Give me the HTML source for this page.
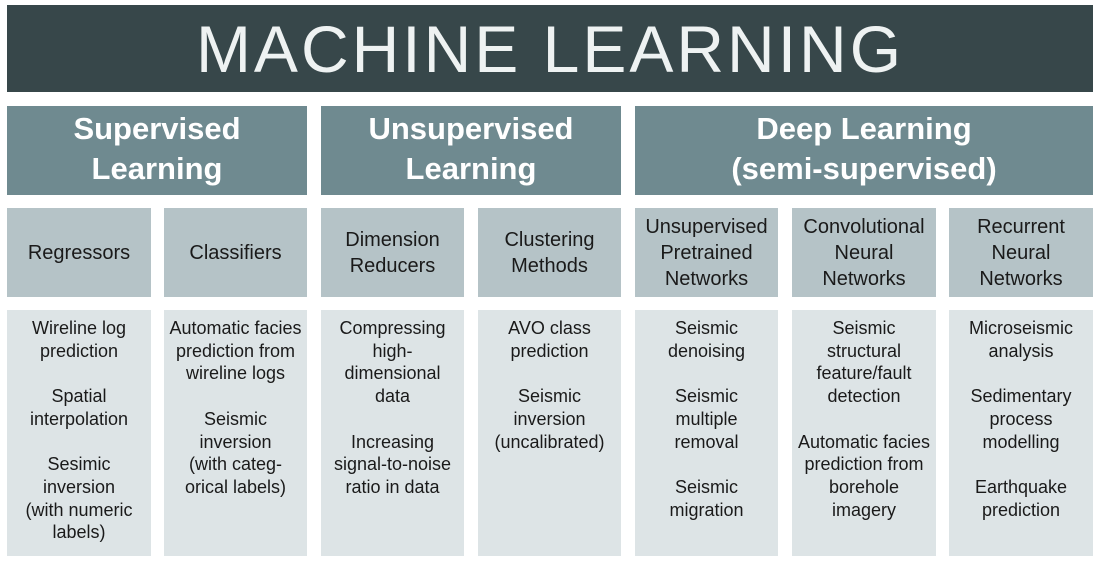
<!DOCTYPE html>
<html><head><meta charset="utf-8"><style>
body{margin:0;width:1100px;height:560px;background:#fff;position:relative;font-family:"Liberation Sans",sans-serif;overflow:hidden}
.b{position:absolute;display:flex;align-items:center;justify-content:center;text-align:center;box-sizing:border-box}
.t{left:7px;top:5px;width:1086px;height:87px;background:#37474a;color:#eef2f2;font-size:66px;letter-spacing:3px}
.c{top:106px;height:89px;background:#6f8a90;color:#fff;font-size:31px;font-weight:bold;line-height:40px;padding-bottom:4px}
.s{top:208px;height:89px;background:#b5c3c7;color:#1a1a1a;font-size:20px;line-height:26px}
.p{top:310px;height:246px;background:#dde4e6;color:#1a1a1a;font-size:18px;line-height:22.7px;align-items:flex-start;padding-top:7px}
.p p{margin:0 0 22.7px 0}
</style></head><body>
<div class="b t">MACHINE LEARNING</div>
<div class="b c" style="left:7px;width:300px">Supervised<br>Learning</div>
<div class="b c" style="left:321px;width:300px">Unsupervised<br>Learning</div>
<div class="b c" style="left:635px;width:458px">Deep Learning<br>(semi-supervised)</div>
<div class="b s" style="left:7px;width:144px">Regressors</div>
<div class="b s" style="left:164px;width:143px">Classifiers</div>
<div class="b s" style="left:321px;width:143px">Dimension<br>Reducers</div>
<div class="b s" style="left:478px;width:143px">Clustering<br>Methods</div>
<div class="b s" style="left:635px;width:143px">Unsupervised<br>Pretrained<br>Networks</div>
<div class="b s" style="left:792px;width:144px">Convolutional<br>Neural<br>Networks</div>
<div class="b s" style="left:949px;width:144px">Recurrent<br>Neural<br>Networks</div>
<div class="b p" style="left:7px;width:144px"><div><p>Wireline log<br>prediction</p><p>Spatial<br>interpolation</p><p>Sesimic<br>inversion<br>(with numeric<br>labels)</p></div></div>
<div class="b p" style="left:164px;width:143px"><div><p>Automatic facies<br>prediction from<br>wireline logs</p><p>Seismic<br>inversion<br>(with categ-<br>orical labels)</p></div></div>
<div class="b p" style="left:321px;width:143px"><div><p>Compressing<br>high-<br>dimensional<br>data</p><p>Increasing<br>signal-to-noise<br>ratio in data</p></div></div>
<div class="b p" style="left:478px;width:143px"><div><p>AVO class<br>prediction</p><p>Seismic<br>inversion<br>(uncalibrated)</p></div></div>
<div class="b p" style="left:635px;width:143px"><div><p>Seismic<br>denoising</p><p>Seismic<br>multiple<br>removal</p><p>Seismic<br>migration</p></div></div>
<div class="b p" style="left:792px;width:144px"><div><p>Seismic<br>structural<br>feature/fault<br>detection</p><p>Automatic facies<br>prediction from<br>borehole<br>imagery</p></div></div>
<div class="b p" style="left:949px;width:144px"><div><p>Microseismic<br>analysis</p><p>Sedimentary<br>process<br>modelling</p><p>Earthquake<br>prediction</p></div></div>
</body></html>
